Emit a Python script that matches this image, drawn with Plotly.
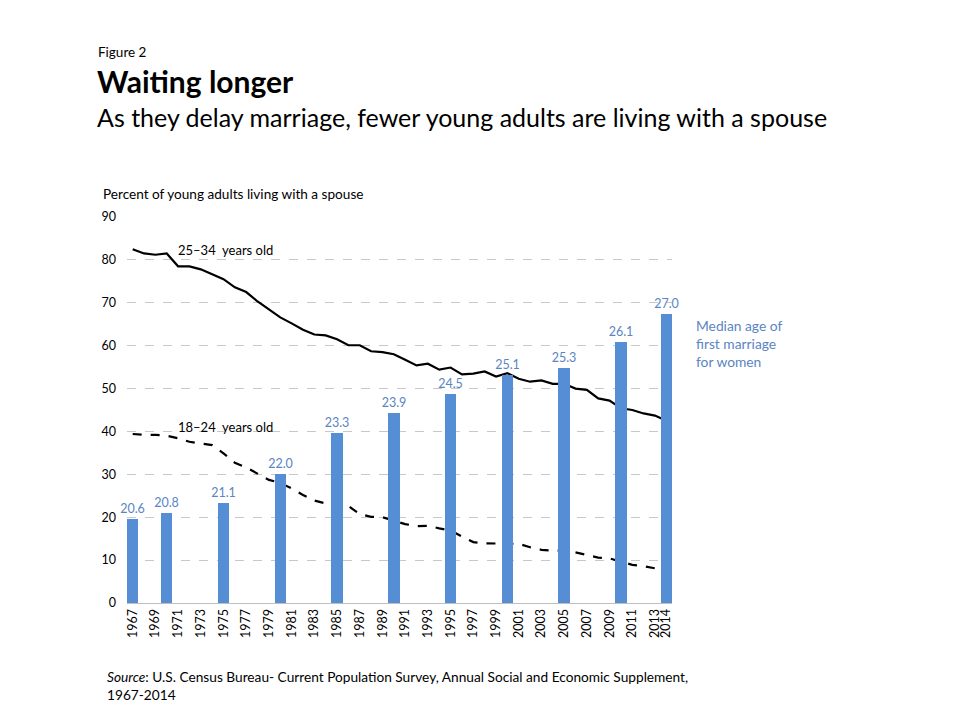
import plotly.graph_objects as go

# Percent of young adults living with a spouse, 1967-2014
years = list(range(1967, 2015))
age_25_34 = [82.5, 81.5, 81.2, 81.5, 78.5, 78.5, 77.8, 76.7, 75.5, 73.6,
             72.5, 70.3, 68.5, 66.6, 65.2, 63.7, 62.6, 62.4, 61.5, 60.1,
             60.1, 58.7, 58.5, 58.0, 56.7, 55.4, 55.8, 54.4, 54.9, 53.3,
             53.5, 54.0, 52.8, 53.6, 52.3, 51.6, 51.9, 51.1, 51.1, 50.0,
             49.7, 47.7, 47.2, 45.4, 45.0, 44.2, 43.7, 42.5]
age_18_24 = [39.4, 39.2, 39.2, 39.0, 38.4, 37.6, 37.2, 36.8, 34.9, 32.7,
             31.6, 30.1, 28.7, 28.0, 26.7, 25.2, 23.9, 23.2, 22.5, 22.6,
             20.7, 20.1, 20.0, 19.2, 18.4, 17.9, 18.0, 17.4, 16.9, 15.5,
             14.2, 13.9, 13.9, 13.8, 13.8, 13.0, 12.4, 12.2, 12.2, 11.8,
             11.2, 10.6, 10.4, 9.6, 8.9, 8.6, 8.1, 8.2]

# Median age at first marriage for women
bar_years = [1967, 1970, 1975, 1980, 1985, 1990, 1995, 2000, 2005, 2010, 2014]
median_age = [20.6, 20.8, 21.1, 22.0, 23.3, 23.9, 24.5, 25.1, 25.3, 26.1, 27.0]

tick_years = list(range(1967, 2014, 2)) + [2014]
tick_labels = [str(y) for y in tick_years]

y_ticks = [0, 10, 20, 30, 40, 50, 60, 70, 80, 90]

FONT = "Lato"
BLUE_BAR = "#558ED5"
BLUE_TXT = "#5A85C2"

# the page body adds an 8px margin, so work in screen pixels and shift
OFF = 8
W, H = 960, 720
L, R, T, B = 127 - OFF, 672 - OFF, 217 - OFF, 603 - OFF


def px(x):
    return (x - OFF - L) / (R - L)


def py(y):
    return (B - (y - OFF)) / (B - T)


fig = go.Figure()

fig.add_trace(go.Bar(
    x=bar_years, y=median_age, yaxis="y2",
    marker=dict(color=BLUE_BAR, line=dict(width=0)),
    width=1.0,
    text=median_age, texttemplate="%{y:.1f}", textposition="outside",
    constraintext="none",
    textfont=dict(color=BLUE_TXT, size=12.5, family=FONT),
    cliponaxis=False, showlegend=False,
))

fig.add_trace(go.Scatter(
    x=years, y=age_25_34, mode="lines",
    line=dict(color="black", width=2.2), showlegend=False,
))

fig.add_trace(go.Scatter(
    x=years, y=age_18_24, mode="lines",
    line=dict(color="black", width=2.2, dash="dash"), showlegend=False,
))

annotations = [
    dict(text="Figure 2", x=px(96), y=py(52), font=dict(size=13.5)),
    dict(text="<b>Waiting longer</b>", x=px(95), y=py(81), font=dict(size=30)),
    dict(text="As they delay marriage, fewer young adults are living with a spouse",
         x=px(95), y=py(117), font=dict(size=25)),
    dict(text="Percent of young adults living with a spouse", x=px(101), y=py(194),
         font=dict(size=13.6)),
    dict(text="Median age of<br>first marriage<br>for women", x=px(694), y=py(343),
         font=dict(size=13.8, color=BLUE_TXT), align="left"),
    dict(text="<i>Source</i>: U.S. Census Bureau- Current Population Survey, Annual Social "
              "and Economic Supplement,<br>1967-2014",
         x=px(105), y=py(685), font=dict(size=13.7), align="left"),
    dict(text="25\u201334  years old", x=px(176), y=py(250), font=dict(size=13)),
    dict(text="18\u201324  years old", x=px(176), y=py(427), font=dict(size=13)),
]
for a in annotations:
    a.update(xref="paper", yref="paper", xanchor="left", yanchor="middle",
             showarrow=False)
    a["font"].setdefault("family", FONT)
    a["font"].setdefault("color", "black")

fig.update_layout(
    width=W, height=H,
    margin=dict(l=L, r=W - R, t=T, b=H - B),
    paper_bgcolor="white", plot_bgcolor="white",
    font=dict(family=FONT, size=12, color="black"),
    bargap=0,
    annotations=annotations,
    xaxis=dict(
        range=[1966.5, 2014.5], tickmode="array", tickvals=tick_years,
        ticktext=tick_labels, tickangle=-90, showgrid=False,
        showline=True, linecolor="#BFBFBF", linewidth=1,
        ticks="", tickfont=dict(size=12.5, family=FONT), zeroline=False,
    ),
    yaxis=dict(
        range=[0, 90], tickvals=y_ticks, showgrid=True,
        gridcolor="#C8C8C8", griddash="dash", gridwidth=1,
        zeroline=False, showline=False, ticks="",
        tickfont=dict(size=12.5, family=FONT), ticklabelstandoff=10,
    ),
    yaxis2=dict(range=[18, 30], overlaying="y", side="right", visible=False),
)

fig.write_html("out.html")
